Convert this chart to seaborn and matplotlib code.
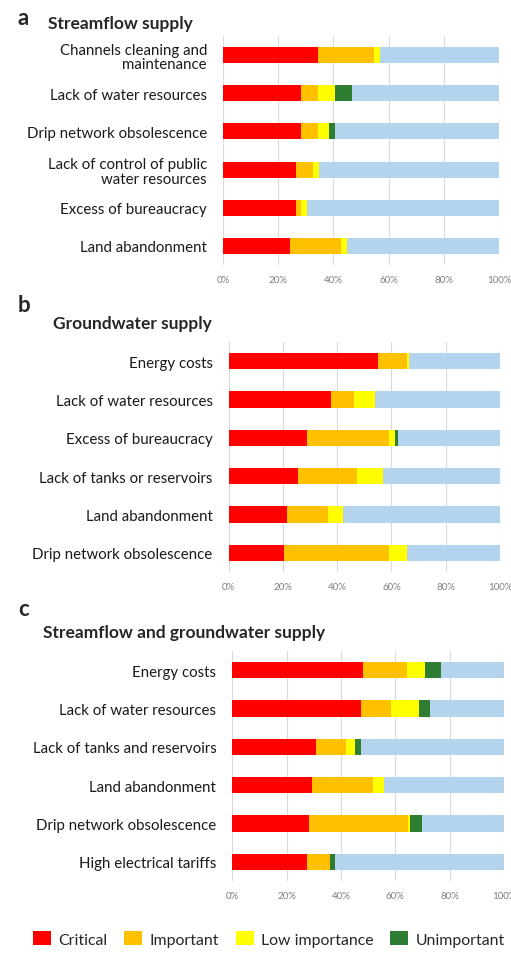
import numpy as np
import pandas as pd
import matplotlib
matplotlib.use('Agg')
import matplotlib.pyplot as plt
import seaborn as sns
from matplotlib.patches import Patch

# panel a - streamflow supply
cats_a = ['Channels cleaning and\nmaintenance', 'Lack of water resources',
          'Drip network obsolescence', 'Lack of control of public\nwater resources',
          'Excess of bureaucracy', 'Land abandonment']
critical_a = [34.5, 28.4, 28.4, 26.3, 26.3, 24.3]
important_a = [20.3, 6.1, 6.1, 6.3, 2.1, 18.5]
low_a = [2.1, 6.2, 4.0, 2.1, 2.0, 2.0]
unimportant_a = [0, 6.0, 2.2, 0, 0, 0]

# panel b - groundwater supply
cats_b = ['Energy costs', 'Lack of water resources', 'Excess of bureaucracy',
          'Lack of tanks or reservoirs', 'Land abandonment', 'Drip network obsolescence']
critical_b = [54.9, 37.7, 28.9, 25.7, 21.4, 20.4]
important_b = [10.9, 8.6, 30.2, 21.6, 15.3, 38.7]
low_b = [0.8, 7.5, 2.2, 9.7, 5.6, 6.7]
unimportant_b = [0, 0, 1.0, 0, 0, 0]

# panel c - streamflow and groundwater supply
cats_c = ['Energy costs', 'Lack of water resources', 'Lack of tanks and reservoirs',
          'Land abandonment', 'Drip network obsolescence', 'High electrical tariffs']
critical_c = [48.2, 47.4, 30.9, 29.3, 28.3, 27.4]
important_c = [16.1, 11.1, 10.8, 22.6, 36.3, 8.6]
low_c = [6.6, 10.3, 3.6, 3.9, 0.8, 0]
unimportant_c = [5.8, 3.8, 2.1, 0, 4.5, 1.7]

levels = ['Critical', 'Important', 'Low importance', 'Unimportant']
colors = {'Critical': '#ff0000', 'Important': '#ffc000',
          'Low importance': '#ffff00', 'Unimportant': '#2e7d32',
          'Other': '#b3d4ec'}

sns.set_theme(style='white')
plt.rcParams['font.family'] = ['Lato', 'DejaVu Sans']

W, H = 511, 954
fig = plt.figure(figsize=(W / 100, H / 100), dpi=100)


def draw_panel(ax, cats, crit, imp, low, unimp):
    df = pd.DataFrame({'cat': cats, 'Critical': crit, 'Important': imp,
                       'Low importance': low, 'Unimportant': unimp})
    df['Other'] = 100 - df[levels].sum(axis=1)
    cum = df[levels + ['Other']].cumsum(axis=1)
    for lvl in reversed(levels + ['Other']):
        sns.barplot(x=cum[lvl], y=df['cat'], color=colors[lvl], width=0.42,
                    saturation=1, errorbar=None, orient='h', ax=ax,
                    linewidth=0, zorder=3)
    ax.set_xlim(0, 100)
    ax.set_xticks(range(0, 101, 20))
    ax.set_xticklabels([f'{t}%' for t in range(0, 101, 20)])
    ax.set_xlabel('')
    ax.set_ylabel('')
    ax.grid(axis='x', color='#d9d9d9', lw=0.8)
    ax.set_axisbelow(True)
    ax.tick_params(axis='x', length=0, pad=7, labelsize=7, labelcolor='#7f7f7f')
    ax.tick_params(axis='y', length=0, pad=11.5, labelsize=10.8, labelcolor='#1a1a1a')
    for lab in ax.get_yticklabels():
        lab.set_linespacing(1.05)
    sns.despine(ax=ax, left=True, bottom=True)


def box(left, right, top, bottom):
    return [left / W, 1 - bottom / H, (right - left) / W, (bottom - top) / H]


ax_a = fig.add_axes(box(223, 499, 37, 266))
ax_b = fig.add_axes(box(228.7, 500, 343, 573))
ax_c = fig.add_axes(box(232.3, 504, 652, 882))

draw_panel(ax_a, cats_a, critical_a, important_a, low_a, unimportant_a)
draw_panel(ax_b, cats_b, critical_b, important_b, low_b, unimportant_b)
draw_panel(ax_c, cats_c, critical_c, important_c, low_c, unimportant_c)

# panel letters and titles
for letter, ly, title, tx, ty in [('a', 25, 'Streamflow supply', 48, 29),
                                  ('b', 312, 'Groundwater supply', 53, 329),
                                  ('c', 616, 'Streamflow and groundwater supply', 43, 638)]:
    fig.text(18 / W, 1 - ly / H, letter, fontsize=16, fontweight='bold', va='baseline')
    fig.text(tx / W, 1 - ty / H, title, fontsize=12.5, fontweight='bold', va='baseline')

handles = [Patch(facecolor=colors[l], edgecolor='none', label=l) for l in levels]
fig.legend(handles=handles, loc='center left', bbox_to_anchor=(33 / W, 1 - 940 / H),
           ncol=4, frameon=False, fontsize=11.4, handlelength=1.15, handleheight=1.0,
           handletextpad=0.45, columnspacing=1.05, borderpad=0, borderaxespad=0)

fig.savefig('out.png', dpi=100)
